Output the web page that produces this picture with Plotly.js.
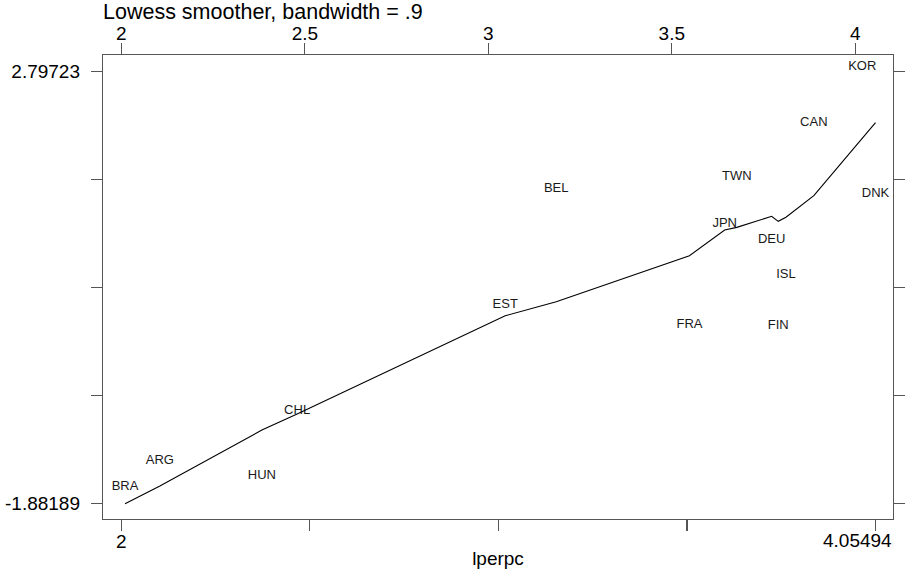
<!DOCTYPE html>
<html>
<head>
<meta charset="utf-8">
<script src="https://cdn.plot.ly/plotly-3.0.1.min.js"></script>
<style>html,body{margin:0;padding:0;background:#fff;}#chart{width:905px;height:576px;}</style>
</head>
<body>
<div id="chart"></div>
<script>
// Country labels (plotted as text markers)
const countries = ["BRA","ARG","HUN","CHL","EST","BEL","FRA","JPN","TWN","DEU","FIN","ISL","CAN","KOR","DNK"];
const lperpc    = [2.010, 2.105, 2.383, 2.479, 3.046, 3.185, 3.548, 3.644, 3.677, 3.772, 3.790, 3.811, 3.887, 4.019, 4.055];
const yvalue    = [-1.699, -1.418, -1.580, -0.876, 0.277, 1.534, 0.053, 1.154, 1.656, 0.977, 0.045, 0.602, 2.249, 2.851, 1.472];
// Lowess smoothed values at each lperpc
const lowessFit = [-1.883, -1.691, -1.085, -0.910, 0.153, 0.305, 0.804, 1.082, 1.111, 1.231, 1.176, 1.220, 1.454, 2.073, 2.245];

// Axis ticks
const bottomTicks = [2, 2.51374, 3.02747, 3.54121, 4.05494];
const bottomTickText = ["2", "", "", "", ""];
const bottomMaxLabel = "4.05494";   // drawn right-aligned to the plot edge, as in the reference
const topTicks = [2, 2.5, 3, 3.5, 4];
const topTickText = ["2", "2.5", "3", "3.5", "4"];
const yTicks = [-1.88189, -0.71211, 0.45767, 1.62745, 2.79723];
const yTickText = ["-1.88189", "", "", "", "2.79723"];

const xRange = [1.950, 4.1027];
const yRange = [-2.048, 2.978];

const FONT = "Liberation Sans, Arial, Helvetica, sans-serif";
const AX = "#555555";

const traces = [
  {
    x: lperpc, y: yvalue, text: countries,
    type: "scatter", mode: "text",
    textposition: "middle center",
    textfont: {family: FONT, size: 13, color: "#1a1a1a"},
    xaxis: "x", yaxis: "y", hoverinfo: "text", showlegend: false
  },
  {
    x: lperpc, y: lowessFit,
    type: "scatter", mode: "lines",
    line: {color: "#000000", width: 1.1},
    xaxis: "x2", yaxis: "y2", showlegend: false
  }
];

const common = {showgrid: false, zeroline: false, showline: true, linecolor: AX, linewidth: 1.2,
  ticks: "outside", ticklen: 11, tickcolor: AX, tickwidth: 1.2,
  tickfont: {family: FONT, size: 19, color: "#000"}};

const layout = {
  width: 905, height: 576,
  paper_bgcolor: "#ffffff", plot_bgcolor: "#ffffff",
  margin: {l: 103, r: 12, t: 55, b: 57},
  showlegend: false,
  font: {family: FONT, color: "#000"},
  title: {text: "Lowess smoother, bandwidth = .9", x: 103/905, xanchor: "left", xref: "container",
          y: 1 - 11/576, yanchor: "middle", yref: "container",
          font: {family: FONT, size: 21.5, color: "#000"}},
  xaxis: Object.assign({}, common, {range: xRange, tickmode: "array", tickvals: bottomTicks, ticktext: bottomTickText,
          side: "bottom", anchor: "y", ticklabelstandoff: -6,
          title: {text: "lperpc", font: {family: FONT, size: 19, color: "#000"}, standoff: 0}}),
  xaxis2: Object.assign({}, common, {range: xRange, tickmode: "array", tickvals: topTicks, ticktext: topTickText,
          side: "top", overlaying: "x", anchor: "y", ticklabelstandoff: -5}),
  yaxis: Object.assign({}, common, {range: yRange, tickmode: "array", tickvals: yTicks, ticktext: yTickText,
          side: "left", anchor: "x", ticklabelstandoff: 7}),
  yaxis2: Object.assign({}, common, {range: yRange, tickmode: "array", tickvals: yTicks, ticktext: ["", "", "", "", ""],
          side: "right", overlaying: "y", anchor: "x", showticklabels: false}),
  annotations: [
    {text: bottomMaxLabel, xref: "paper", yref: "paper", x: 1, y: 0, xanchor: "right", yanchor: "middle",
     xshift: 1, yshift: -21, showarrow: false, font: {family: FONT, size: 19, color: "#000"}}
  ]
};

Plotly.newPlot("chart", traces, layout, {displayModeBar: false, staticPlot: true});
</script>
</body>
</html>
